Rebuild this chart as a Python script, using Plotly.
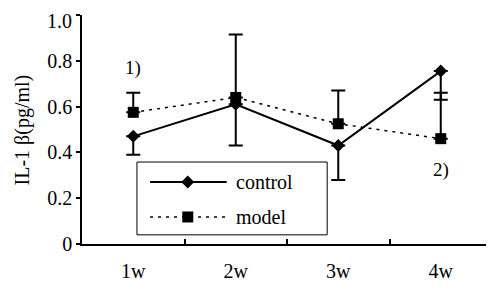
import plotly.graph_objects as go

weeks = ["1w", "2w", "3w", "4w"]
control = [0.47, 0.61, 0.43, 0.755]
control_err_minus = [0.08, 0.18, 0.15, 0.125]
control_err_plus = [0, 0, 0, 0]
model = [0.575, 0.64, 0.525, 0.46]
model_err_plus = [0.085, 0.275, 0.145, 0.20]
model_err_minus = [0, 0, 0, 0]
y_ticks = [0, 0.2, 0.4, 0.6, 0.8, 1.0]
y_tick_text = ["0", "0.2", "0.4", "0.6", "0.8", ""]
y_top_label = "1.0"

FONT = "Liberation Serif"
FS = 20

fig = go.Figure()
fig.add_trace(go.Scatter(
    x=weeks, y=model, mode="lines+markers", name="model",
    line=dict(color="black", width=1.5, dash="3px,5px"),
    marker=dict(symbol="square", size=11, color="black"),
    error_y=dict(type="data", symmetric=False, array=model_err_plus,
                 arrayminus=model_err_minus, color="black", thickness=2, width=7),
    showlegend=False,
))
fig.add_trace(go.Scatter(
    x=weeks, y=control, mode="lines+markers", name="control",
    line=dict(color="black", width=2),
    marker=dict(symbol="diamond", size=10, color="black"),
    error_y=dict(type="data", symmetric=False, array=control_err_plus,
                 arrayminus=control_err_minus, color="black", thickness=2, width=7),
    showlegend=False,
))

# manual legend on an overlay axis spanning the plot area in [0,1] coordinates
ROW_C, ROW_M = 0.271, 0.118
fig.add_trace(go.Scatter(x=[0.258], y=[ROW_C], mode="markers", xaxis="x2", yaxis="y2",
                         marker=dict(symbol="diamond", size=10, color="black"),
                         showlegend=False, hoverinfo="skip"))
fig.add_trace(go.Scatter(x=[0.258], y=[ROW_M], mode="markers", xaxis="x2", yaxis="y2",
                         marker=dict(symbol="square", size=11, color="black"),
                         showlegend=False, hoverinfo="skip"))

shapes = [
    dict(type="rect", xref="x2", yref="y2", x0=0.134, x1=0.598, y0=0.04, y1=0.358,
         line=dict(color="black", width=1), fillcolor="white", layer="below"),
    dict(type="line", xref="x2", yref="y2", x0=0.166, x1=0.353, y0=ROW_C, y1=ROW_C,
         line=dict(color="black", width=2)),
    dict(type="line", xref="x2", yref="y2", x0=0.166, x1=0.353, y0=ROW_M, y1=ROW_M,
         line=dict(color="black", width=1.5, dash="3px,5px")),
]

annotations = [
    dict(x=0.37, y=ROW_C, xref="x2", yref="y2", text="control", showarrow=False,
         xanchor="left", font=dict(family=FONT, size=FS, color="black")),
    dict(x=0.37, y=ROW_M, xref="x2", yref="y2", text="model", showarrow=False,
         xanchor="left", font=dict(family=FONT, size=FS, color="black")),
    dict(x="1w", y=0.77, text="1)", showarrow=False,
         font=dict(family=FONT, size=19, color="black")),
    dict(x="4w", y=0.325, text="2)", showarrow=False,
         font=dict(family=FONT, size=19, color="black")),
    dict(x=-0.144, y=0.5, xref="paper", yref="paper", text="IL-1 β(pg/ml)",
         textangle=-90, showarrow=False, xanchor="center", yanchor="middle",
         font=dict(family=FONT, size=FS, color="black")),
    # top tick label, sits just below the tick as in the reference
    dict(x=0, y=1, xref="paper", yref="paper", text=y_top_label, showarrow=False,
         xanchor="right", yanchor="top", xshift=-8, yshift=7,
         font=dict(family=FONT, size=FS, color="black")),
]

# the page body adds an 8px offset, so the figure is drawn 8px smaller
fig.update_layout(
    width=486, height=277,
    margin=dict(l=74, r=2, t=7, b=41),
    paper_bgcolor="white", plot_bgcolor="white",
    font=dict(family=FONT, size=FS, color="black"),
    xaxis=dict(type="category", categoryorder="array", categoryarray=weeks,
               range=[-0.5, 3.5], showline=True, linecolor="black", linewidth=2,
               ticks="inside", tickson="boundaries", ticklen=5, tickcolor="black",
               tickwidth=1.5, showgrid=False, zeroline=False, automargin=False,
               ticklabelstandoff=8, ticklabeloverflow="allow",
               tickfont=dict(family=FONT, size=FS)),
    yaxis=dict(range=[0, 1.0], tickvals=y_ticks, ticktext=y_tick_text,
               showline=True, linecolor="black", linewidth=1.5,
               ticks="outside", ticklen=4, tickcolor="black", tickwidth=1.5,
               showgrid=False, zeroline=False, automargin=False,
               ticklabeloverflow="allow",
               tickfont=dict(family=FONT, size=FS)),
    xaxis2=dict(overlaying="x", range=[0, 1], visible=False, fixedrange=True),
    yaxis2=dict(overlaying="y", range=[0, 1], visible=False, fixedrange=True),
    shapes=shapes,
    annotations=annotations,
)

fig.write_html("out.html")
